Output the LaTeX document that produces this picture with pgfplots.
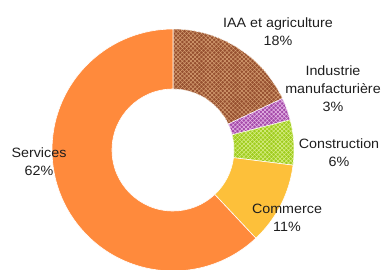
\documentclass[border=0pt]{standalone}
\usepackage{pgfplots}
\pgfplotsset{compat=1.18}
\usepackage{pgfplotstable}
\usepackage{fontspec}
\setmainfont{Liberation Sans}[FakeStretch=1.06]
\usetikzlibrary{patterns.meta}

\definecolor{cIAA}{RGB}{150,80,48}
\definecolor{cIAAd}{RGB}{215,160,115}
\definecolor{cInd}{RGB}{165,75,170}
\definecolor{cIndd}{RGB}{235,190,235}
\definecolor{cCon}{RGB}{160,205,30}
\definecolor{cCond}{RGB}{220,240,140}
\definecolor{cCom}{RGB}{253,192,58}
\definecolor{cSer}{RGB}{255,138,60}
\definecolor{ctext}{RGB}{30,30,30}

\pgfplotstableread{
id value
0 18
1 3
2 6
3 11
4 62
}\piedata

\newcommand\slice[4]{%
  \fill[#3,draw=white,line width=0.6pt,#4]
    (axis cs:{173+121*cos(#1)},{119+121*sin(#1)})
    arc[start angle=#1,end angle=#2,radius=121pt]
    -- (axis cs:{173+61*cos(#2)},{119+61*sin(#2)})
    arc[start angle=#2,end angle=#1,radius=61pt] -- cycle;}

\tikzset{weave/.style={
  postaction={pattern={Lines[angle=45,distance=3pt,line width=0.5pt]},pattern color=#1},
  postaction={pattern={Lines[angle=-45,distance=3pt,line width=0.5pt]},pattern color=#1}}}

\begin{document}
\begin{tikzpicture}
\useasboundingbox (0,0) rectangle (387pt,269pt);
\pgfplotstablegetelem{0}{value}\of\piedata \edef\vA{\pgfplotsretval}
\pgfplotstablegetelem{1}{value}\of\piedata \edef\vB{\pgfplotsretval}
\pgfplotstablegetelem{2}{value}\of\piedata \edef\vC{\pgfplotsretval}
\pgfplotstablegetelem{3}{value}\of\piedata \edef\vD{\pgfplotsretval}
\pgfplotstablegetelem{4}{value}\of\piedata \edef\vE{\pgfplotsretval}
\pgfmathsetmacro\aA{90}
\pgfmathsetmacro\aB{\aA-3.6*\vA}
\pgfmathsetmacro\aC{\aB-3.6*\vB}
\pgfmathsetmacro\aD{\aC-3.6*\vC}
\pgfmathsetmacro\aE{\aD-3.6*\vD}
\pgfmathsetmacro\aF{\aE-3.6*\vE}
\begin{axis}[
  at={(0,0)}, anchor=south west,
  width=387pt, height=269pt, scale only axis,
  xmin=0, xmax=387, ymin=0, ymax=269,
  hide axis,
]
\slice{\aA}{\aB}{cIAA}{weave=cIAAd}
\slice{\aB}{\aC}{cInd}{weave=cIndd}
\slice{\aC}{\aD}{cCon}{weave=cCond}
\slice{\aD}{\aE}{cCom}{}
\slice{\aE}{\aF}{cSer}{}
\tikzset{lab/.style={align=center,text=ctext,font=\fontsize{13.5}{18}\selectfont,inner sep=0pt}}
\node[lab] at (axis cs:278,237) {IAA et agriculture\\18\%};
\node[lab] at (axis cs:333,180) {Industrie\\manufacturière\\3\%};
\node[lab] at (axis cs:339,116.5) {Construction\\6\%};
\node[lab] at (axis cs:287,51.5) {Commerce\\11\%};
\node[lab] at (axis cs:39,107) {Services\\62\%};
\end{axis}
\end{tikzpicture}
\end{document}
